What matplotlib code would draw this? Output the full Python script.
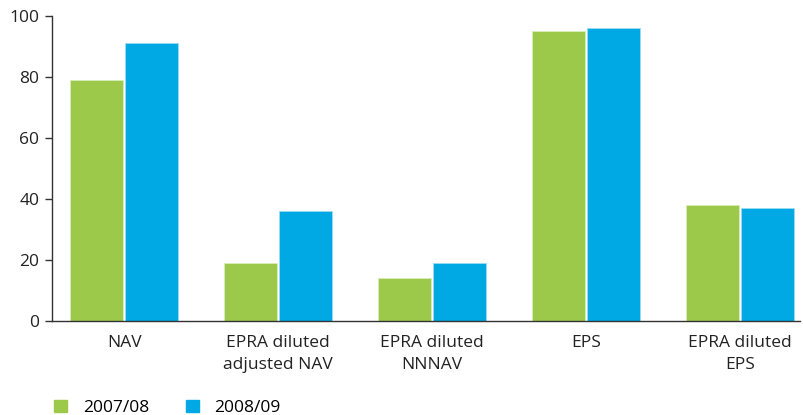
import numpy as np
import matplotlib.pyplot as plt
from matplotlib.patches import Patch

plt.rcParams['font.family'] = ['Open Sans', 'DejaVu Sans']

categories = ['NAV', 'EPRA diluted\nadjusted NAV', 'EPRA diluted\nNNNAV', 'EPS', 'EPRA diluted\nEPS']
series_names = ['2007/08', '2008/09']
values_0708 = [79, 19, 14, 95, 38]
values_0809 = [91, 36, 19, 96, 37]
yticks = [0, 20, 40, 60, 80, 100]

green = '#9dc94b'
blue = '#00a9e4'

fig = plt.figure(figsize=(8.04, 4.15), dpi=100)
ax = fig.add_axes([52/804, 94/415, 748/804, 305/415])

x = np.arange(len(categories))
w = 0.345
ax.bar(x - 0.18, values_0708, width=w, color=green, edgecolor='#d8eebb', linewidth=0.6)
ax.bar(x + 0.178, values_0809, width=w, color=blue, edgecolor='#9fdcf4', linewidth=0.6)

ax.set_xlim(-0.47, 4.39)
ax.set_ylim(0, 100)
ax.set_yticks(yticks)
ax.set_xticks(x)
ax.set_xticklabels(categories, fontsize=12.5, color='#222222', linespacing=1.5, va='top')
ax.tick_params(axis='x', length=0, pad=10)
ax.tick_params(axis='y', length=5, width=1, color='#333333', labelsize=12.5, labelcolor='#222222', pad=4)

for side in ('top', 'right'):
    ax.spines[side].set_visible(False)
for side in ('left', 'bottom'):
    ax.spines[side].set_color('#333333')
    ax.spines[side].set_linewidth(1)

handles = [Patch(color=green), Patch(color=blue)]
fig.legend(handles, series_names, loc='lower left', bbox_to_anchor=(0.048, -0.04), ncol=2,
           frameon=False, fontsize=12.5, handlelength=0.75, handleheight=0.75,
           handletextpad=0.9, columnspacing=2.1)

fig.savefig('out.png', dpi=100)
